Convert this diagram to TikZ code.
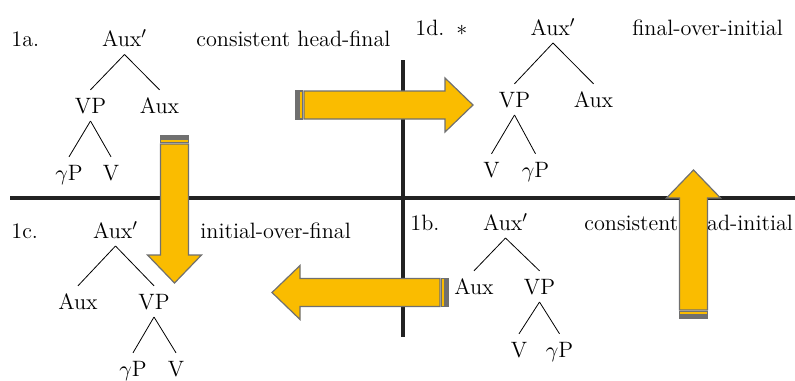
\documentclass[tikz,border=0pt]{standalone}
\usetikzlibrary{positioning}
\definecolor{fofgold}{RGB}{250,188,0}
\definecolor{fofgrey}{RGB}{112,112,112}
\definecolor{fofblack}{RGB}{34,34,34}
\tikzset{
  font=\fontsize{11.1pt}{13.3pt}\selectfont,
  cat/.style={anchor=base,inner sep=0pt,outer sep=4pt,text height=7.6pt,text depth=0pt},
  lbl/.style={anchor=base west,inner sep=0pt},
  branch/.style={line width=0.4pt},
  quadline/.style={draw=fofblack,line width=2pt},
  arrowbody/.style={draw=fofgrey,fill=fofgold,line width=0.6pt,line join=miter},
  pics/stripedarrow/.style={code={
    \draw[arrowbody] (0,-14) rectangle (1.2,14);
    \draw[arrowbody] (3,-14) rectangle (6.5,14);
    \draw[arrowbody] (8,-14) -- ({#1-28},-14) -- ({#1-28},-27) -- (#1,0)
      -- ({#1-28},27) -- ({#1-28},14) -- (8,14) -- cycle;
  }},
}

\begin{document}
\begin{tikzpicture}[x=0.5pt,y=-0.5pt]
  \useasboundingbox (0,0) rectangle (795,380);

  % quadrants
  \coordinate (hleft) at (10,198);
  \coordinate (hright) at (795,198);
  \coordinate (vtop) at (403,60);
  \coordinate (vbot) at (403,337);
  \draw[quadline] (hleft) -- (hright);
  \draw[quadline] (vtop) -- (vbot);

  % 1a
  \node[lbl] (labA) at (11,46.5) {1a.};
  \node[lbl] (capA) at (196,46.5) {consistent head-final};
  \node[cat] (rootA) at (124.5,46.5) {Aux$'$};
  \node[cat] (vpA) at (90.5,113) {VP};
  \node[cat] (auxA) at (159.5,113) {Aux};
  \node[cat] (gpA) at (69,180) {$\gamma$P};
  \node[cat] (vA) at (111,180) {V};
  \draw[branch] (rootA.south) -- (vpA.north);
  \draw[branch] (rootA.south) -- (auxA.north);
  \draw[branch] (vpA.south) -- (gpA.north);
  \draw[branch] (vpA.south) -- (vA.north);

  % 1d
  \node[lbl] (labD) at (415,35) {1d.\hspace{6pt}$*$};
  \node[lbl] (capD) at (632,35) {final-over-initial};
  \node[cat] (rootD) at (553,35) {Aux$'$};
  \node[cat] (vpD) at (514.5,107) {VP};
  \node[cat] (auxD) at (593.5,107) {Aux};
  \node[cat] (vD) at (491.5,177) {V};
  \node[cat] (gpD) at (535.5,177) {$\gamma$P};
  \draw[branch] (rootD.south) -- (vpD.north);
  \draw[branch] (rootD.south) -- (auxD.north);
  \draw[branch] (vpD.south) -- (vD.north);
  \draw[branch] (vpD.south) -- (gpD.north);

  % 1c
  \node[lbl] (labC) at (11,238) {1c.};
  \node[lbl] (capC) at (200,238) {initial-over-final};
  \node[cat] (rootC) at (115.5,238) {Aux$'$};
  \node[cat] (auxC) at (78,309) {Aux};
  \node[cat] (vpC) at (154,309) {VP};
  \node[cat] (gpC) at (133,376) {$\gamma$P};
  \node[cat] (vC) at (176,376) {V};
  \draw[branch] (rootC.south) -- (auxC.north);
  \draw[branch] (rootC.south) -- (vpC.north);
  \draw[branch] (vpC.south) -- (gpC.north);
  \draw[branch] (vpC.south) -- (vC.north);

  % 1b
  \node[lbl] (labB) at (410,230) {1b.};
  \node[lbl] (capB) at (584,230) {consistent head-initial};
  \node[cat] (rootB) at (505.5,230) {Aux$'$};
  \node[cat] (auxB) at (474,294) {Aux};
  \node[cat] (vpB) at (539.5,294) {VP};
  \node[cat] (vB) at (519,357) {V};
  \node[cat] (gpB) at (559.5,357) {$\gamma$P};
  \draw[branch] (rootB.south) -- (auxB.north);
  \draw[branch] (rootB.south) -- (vpB.north);
  \draw[branch] (vpB.south) -- (vB.north);
  \draw[branch] (vpB.south) -- (gpB.north);

  % block arrows
  \pic at (296,105) {stripedarrow=177};
  \pic[rotate=-90] at (174.5,136) {stripedarrow=147};
  \pic[rotate=180] at (448,292.5) {stripedarrow=176};
  \pic[rotate=90] at (693.5,318) {stripedarrow=148};
\end{tikzpicture}
\end{document}
